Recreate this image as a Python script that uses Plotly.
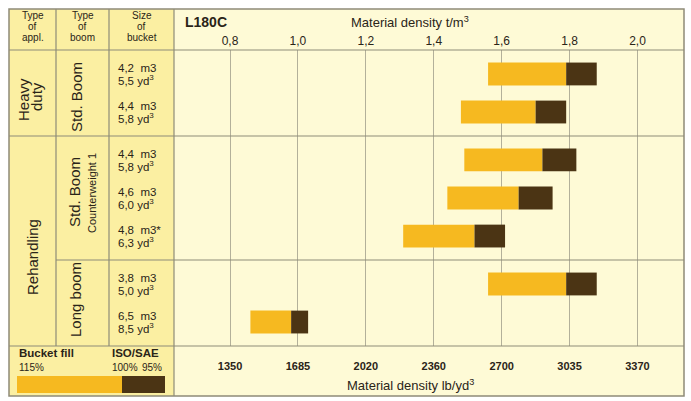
import plotly.graph_objects as go

W, H = 691, 401

# ---------------- data ----------------
size_m3 = ["4,2  m3", "4,4  m3", "4,4  m3", "4,6  m3", "4,8  m3*", "3,8  m3", "6,5  m3"]
size_yd3 = ["5,5 yd<sup>3</sup>", "5,8 yd<sup>3</sup>", "5,8 yd<sup>3</sup>", "6,0 yd<sup>3</sup>",
            "6,3 yd<sup>3</sup>", "5,0 yd<sup>3</sup>", "8,5 yd<sup>3</sup>"]
dens_115 = [1.56, 1.48, 1.49, 1.44, 1.31, 1.56, 0.86]   # t/m3 at 115 % fill
dens_100 = [1.79, 1.70, 1.72, 1.65, 1.52, 1.79, 0.98]   # t/m3 at 100 % fill
dens_95 = [1.88, 1.79, 1.82, 1.75, 1.61, 1.88, 1.03]    # t/m3 at 95 % fill
tick_tm3 = [0.8, 1.0, 1.2, 1.4, 1.6, 1.8, 2.0]
tick_lbyd3 = ["1350", "1685", "2020", "2360", "2700", "3035", "3370"]
sections = [("Heavy duty", "Std. Boom", 2),
            ("Rehandling", "Std. Boom", 3),
            ("Rehandling", "Long boom", 2)]

# ---------------- style ----------------
FONT = "Liberation Sans, Arial, sans-serif"
TXT = "#2a2418"
LINE = "#8e8b78"
GRID = "#b3b09a"
YEL_BG = "#fbefa2"
CREAM = "#fefad6"
BAR_Y = "#f6b920"
BAR_D = "#4b3414"

def px(x):
    return x / W

def py(y):
    return 1 - y / H

# row positions in row units (section padding + unit spacing)
PAD = 0.63
row_pos, bounds = [], [0.0]
cur = 0.0
for _, _, n in sections:
    for i in range(n):
        row_pos.append(cur + PAD + i)
    cur += 2 * PAD + (n - 1)
    bounds.append(cur)
total = cur

fig = go.Figure()
fig.add_trace(go.Bar(y=row_pos, x=[b - a for a, b in zip(dens_115, dens_100)], base=dens_115,
                     orientation="h", width=0.6, marker=dict(color=BAR_Y, line_width=0),
                     showlegend=False, hoverinfo="skip"))
fig.add_trace(go.Bar(y=row_pos, x=[b - a for a, b in zip(dens_100, dens_95)], base=dens_100,
                     orientation="h", width=0.6, marker=dict(color=BAR_D, line_width=0),
                     showlegend=False, hoverinfo="skip"))
fig.add_trace(go.Scatter(x=[None], y=[None], xaxis="x2", showlegend=False, hoverinfo="skip"))

XR = [0.635, 2.137]
shapes = []
def rect(x0, y0, x1, y1, fill, layer="below"):
    shapes.append(dict(type="rect", xref="paper", yref="paper", x0=px(x0), x1=px(x1),
                       y0=py(y1), y1=py(y0), fillcolor=fill, line_width=0, layer=layer))
def hline(x0, x1, y, w=1.2):
    shapes.append(dict(type="line", xref="paper", yref="paper", x0=px(x0), x1=px(x1),
                       y0=py(y), y1=py(y), line=dict(color=LINE, width=w), layer="above"))
def vline(x, y0, y1, w=1.2):
    shapes.append(dict(type="line", xref="paper", yref="paper", x0=px(x), x1=px(x),
                       y0=py(y0), y1=py(y1), line=dict(color=LINE, width=w), layer="above"))

rect(9, 9, 174, 396, YEL_BG)
rect(174, 9, 684, 50, CREAM)
rect(174, 346, 684, 396, CREAM)
hline(9, 684, 50)
hline(9, 684, 346)
vline(56, 9, 346)
vline(109, 9, 346)
vline(174, 9, 396)
# section separators (in y-axis units)
shapes.append(dict(type="line", xref="paper", yref="y", x0=px(9), x1=px(684), y0=bounds[1], y1=bounds[1],
                   line=dict(color=LINE, width=1.2), layer="above"))
shapes.append(dict(type="line", xref="paper", yref="y", x0=px(56), x1=px(684), y0=bounds[2], y1=bounds[2],
                   line=dict(color=LINE, width=1.2), layer="above"))
# legend key
rect(17, 376, 122, 393, BAR_Y, "above")
rect(122, 376, 165, 393, BAR_D, "above")
# outer border
shapes.append(dict(type="rect", xref="paper", yref="paper", x0=px(9), x1=px(684), y0=py(396), y1=py(9),
                   line=dict(color=LINE, width=1.5), fillcolor="rgba(0,0,0,0)", layer="above"))

ann = []
def text(x, y, s, size=12, bold=False, xanchor="center", angle=0, yref="paper", yshift=0):
    ann.append(dict(x=px(x), y=(py(y) if yref == "paper" else y), xref="paper", yref=yref,
                    text=(f"<b>{s}</b>" if bold else s), showarrow=False, xanchor=xanchor,
                    yanchor="middle", textangle=angle, yshift=yshift,
                    font=dict(family=FONT, size=size, color=TXT)))

# header texts
for i, w in enumerate(["Type", "of", "appl."]):
    text(32.5, 15.5 + i * 11, w, 10)
for i, w in enumerate(["Type", "of", "boom"]):
    text(82.5, 15.5 + i * 11, w, 10)
for i, w in enumerate(["Size", "of", "bucket"]):
    text(141.5, 15.5 + i * 11, w, 10)
text(183, 22, "L180C", 14, bold=True, xanchor="left")
text(410, 22, "Material density t/m<sup>3</sup>", 13)
text(410, 385, "Material density lb/yd<sup>3</sup>", 13)

# application / boom labels
text(23, 100, "Heavy", 15, angle=-90)
text(36, 97, "duty", 15, angle=-90)
text(32, 257, "Rehandling", 15, angle=-90)
text(76, 97, "Std. Boom", 15, angle=-90)
text(75, 192, "Std. Boom", 15, angle=-90)
text(92, 193, "Counterweight 1", 11, angle=-90)
text(75, 300, "Long boom", 15, angle=-90)

# bucket sizes
for yv, a, b in zip(row_pos, size_m3, size_yd3):
    text(116, yv, a, 11.5, xanchor="left", yref="y", yshift=6)
    text(116, yv, b, 11.5, xanchor="left", yref="y", yshift=-6)

# legend texts
text(17, 353, "Bucket fill", 11.5, bold=True, xanchor="left")
text(110, 353, "ISO/SAE", 11.5, bold=True, xanchor="left")
text(17, 367, "115%", 10, xanchor="left")
text(110, 367, "100%", 10, xanchor="left")
text(140, 367, "95%", 10, xanchor="left")

fig.update_layout(
    width=W, height=H, margin=dict(l=0, r=0, t=0, b=0),
    paper_bgcolor="white", plot_bgcolor=CREAM,
    barmode="overlay", separators=", ",
    shapes=shapes, annotations=ann,
    font=dict(family=FONT, color=TXT),
    xaxis=dict(domain=[px(174), px(684)], range=XR, side="top", tickvals=tick_tm3,
               tickformat=".1f", showgrid=True, gridcolor=GRID, gridwidth=1,
               zeroline=False, showline=False, ticks="", ticklabelstandoff=2,
               tickfont=dict(family=FONT, size=12, color=TXT)),
    xaxis2=dict(domain=[px(174), px(684)], range=XR, overlaying="x", anchor="y", side="bottom",
                tickvals=tick_tm3, ticktext=[f"<b>{t}</b>" for t in tick_lbyd3], showgrid=False,
                zeroline=False, showline=False, ticks="", ticklabelstandoff=12,
                tickfont=dict(family=FONT, size=11, color=TXT)),
    yaxis=dict(domain=[py(346), py(50)], range=[total, 0], showgrid=False, zeroline=False,
               showticklabels=False, ticks="", showline=False),
)

fig.write_html("out.html", config={"displayModeBar": False},
               post_script="document.body.style.margin='0';document.body.style.overflow='hidden';")
